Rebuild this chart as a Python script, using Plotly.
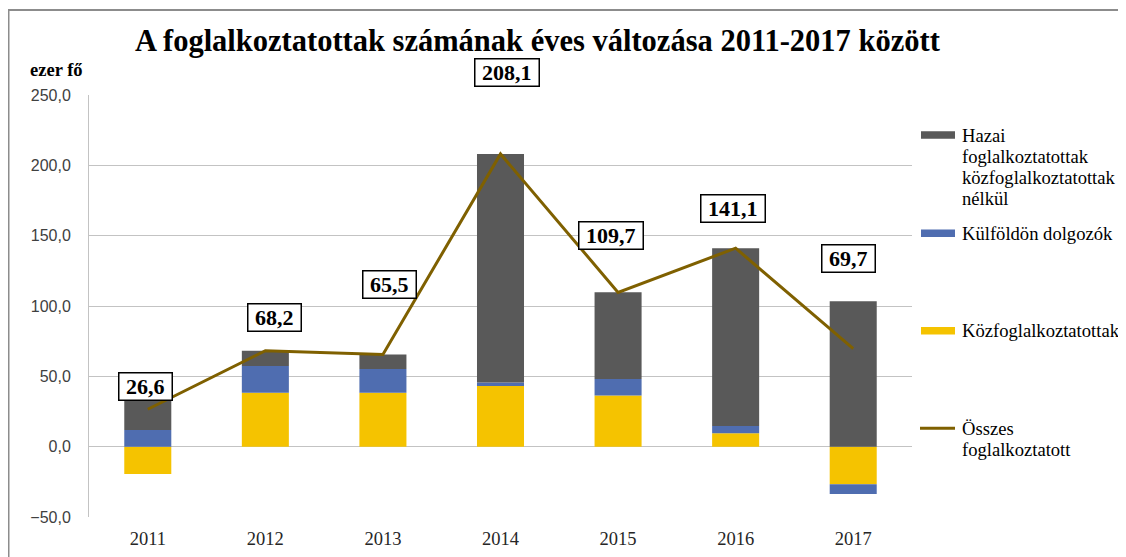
import plotly.graph_objects as go

years = ["2011", "2012", "2013", "2014", "2015", "2016", "2017"]
kozfog = [-19.4, 38.4, 38.4, 43.1, 36.3, 9.5, -26.8]
kulfold = [11.9, 19.0, 16.8, 2.6, 11.8, 5.2, -6.8]
hazai = [34.1, 10.8, 10.3, 162.4, 61.6, 126.4, 103.3]
osszes = [26.6, 68.2, 65.5, 208.1, 109.7, 141.1, 69.7]
osszes_labels = ["26,6", "68,2", "65,5", "208,1", "109,7", "141,1", "69,7"]

# label offsets in pixels (style)
lab_dx = [-2, 9, 7, 6, -6.6, -2.6, -5.2]
lab_dy = [23, 33, 70, 81, 57, 40, 90]

title = "A foglalkoztatottak számának éves változása 2011-2017 között"
unit = "ezer fő"
names = ["Hazai foglalkoztatottak közfoglalkoztatottak nélkül", "Külföldön dolgozók",
         "Közfoglalkoztatottak", "Összes foglalkoztatott"]
legend_lines = [["Hazai", "foglalkoztatottak", "közfoglalkoztatottak", "nélkül"],
                ["Külföldön dolgozók"],
                ["Közfoglalkoztatottak"],
                ["Összes", "foglalkoztatott"]]

C_GRAY = "#595959"
C_BLUE = "#4F6DB0"
C_YEL = "#F5C300"
C_LINE = "#7F6000"

# the page body adds an 8px offset; work in reference-screen pixels and convert
OFF = 8
W, H = 1126 - OFF, 557 - OFF
RL, RR, RT, RB = 89, 912, 95, 517          # plot area in screen pixels
L, R, T, B = RL - OFF, RR - OFF, RT - OFF, RB - OFF
pw, ph = R - L, B - T


def px(x):
    return (x - OFF - L) / pw


def py(y):
    return (B - (y - OFF)) / ph


fig = go.Figure()
fig.add_trace(go.Bar(x=years, y=kozfog, name=names[2], marker=dict(color=C_YEL, line=dict(width=0))))
fig.add_trace(go.Bar(x=years, y=kulfold, name=names[1], marker=dict(color=C_BLUE, line=dict(width=0))))
fig.add_trace(go.Bar(x=years, y=hazai, name=names[0], marker=dict(color=C_GRAY, line=dict(width=0))))
fig.add_trace(go.Scatter(x=years, y=osszes, name=names[3], mode="lines",
                         line=dict(color=C_LINE, width=3)))

annotations = []
for i, (v, t) in enumerate(zip(osszes, osszes_labels)):
    box_w = 11 * (len(t) - 1) + 5.5 + 13
    annotations.append(dict(x=i, y=v, xref="x", yref="y", text="<b>" + t + "</b>", showarrow=False,
                            xshift=lab_dx[i], yshift=lab_dy[i], width=box_w, height=26, align="center",
                            font=dict(family="Liberation Serif", size=22, color="black"),
                            bgcolor="white", bordercolor="black", borderwidth=1.5, borderpad=0,
                            xanchor="center", yanchor="middle"))

annotations.append(dict(x=px(538), y=py(40.5), xref="paper", yref="paper", text="<b>" + title + "</b>",
                        showarrow=False, xanchor="center", yanchor="middle",
                        font=dict(family="Liberation Serif", size=30.5, color="black")))
annotations.append(dict(x=px(56), y=py(70), xref="paper", yref="paper", text="<b>" + unit + "</b>",
                        showarrow=False, xanchor="center", yanchor="middle",
                        font=dict(family="Liberation Serif", size=18.5, color="black")))

shapes = []
# outer frame
shapes.append(dict(type="rect", xref="paper", yref="paper", x0=px(8.5), x1=px(1130), y0=py(565), y1=py(10),
                   line=dict(color="#8c8c8c", width=2), fillcolor="rgba(0,0,0,0)", layer="below"))

# manual legend
entry_y = [135, 233.3, 330.7, 428.3]
colors = [C_GRAY, C_BLUE, C_YEL]
for k in range(4):
    yc = entry_y[k]
    if k < 3:
        shapes.append(dict(type="rect", xref="paper", yref="paper", x0=px(921), x1=px(955),
                           y0=py(yc + 3.8), y1=py(yc - 3.8), line=dict(width=0), fillcolor=colors[k]))
    else:
        shapes.append(dict(type="line", xref="paper", yref="paper", x0=px(920), x1=px(955),
                           y0=py(yc), y1=py(yc), line=dict(color=C_LINE, width=3)))
    for j, line in enumerate(legend_lines[k]):
        annotations.append(dict(x=px(960), y=py(yc + 21 * j), xref="paper", yref="paper", text=line,
                                showarrow=False, xanchor="left", yanchor="middle",
                                font=dict(family="Liberation Serif", size=18.6, color="black")))

fig.update_layout(
    width=W, height=H,
    margin=dict(l=L, r=W - R, t=T, b=H - B, pad=0, autoexpand=False),
    paper_bgcolor="white", plot_bgcolor="white",
    barmode="relative", bargap=0.6,
    showlegend=False,
    separators=",.",
    annotations=annotations,
    shapes=shapes,
)
fig.update_yaxes(range=[-50, 250], dtick=50, tickformat=".1f", showgrid=True, gridcolor="#c3c3c3",
                 gridwidth=1, zeroline=False, showline=True, linecolor="#c3c3c3", linewidth=1,
                 ticks="", ticklabelstandoff=14, automargin=False,
                 tickfont=dict(family="Liberation Sans", size=16, color="#404040"))
fig.update_xaxes(type="category", range=[-0.5, 6.5], showgrid=False, zeroline=False, showline=False,
                 ticks="", ticklabelstandoff=8, automargin=False,
                 tickfont=dict(family="Liberation Serif", size=18.5, color="#262626"))

fig.write_html("out.html")
